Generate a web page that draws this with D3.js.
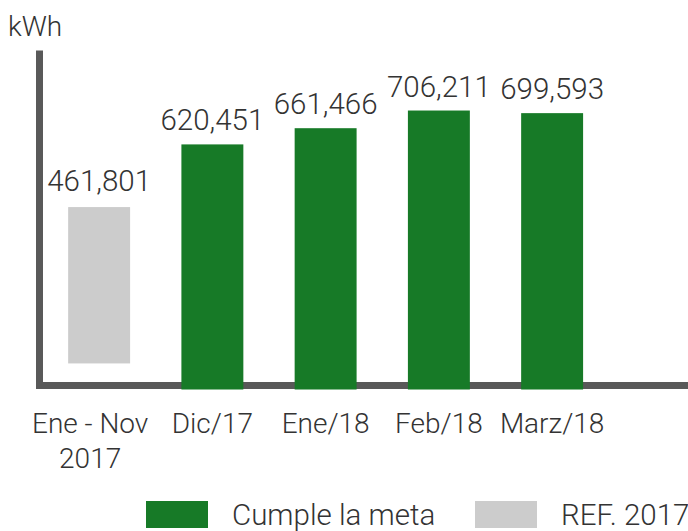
<!DOCTYPE html>
<html>
<head>
<meta charset="utf-8">
<script src="https://cdn.jsdelivr.net/npm/d3@7"></script>
<style>
  html, body { margin: 0; padding: 0; background: #fff; }
  svg { display: block; }
  text { font-family: Roboto, "Liberation Sans", sans-serif; font-weight: 300; fill: #333; }
</style>
</head>
<body>
<svg id="chart" width="688" height="531"></svg>
<script>
// ---- data ----
const categories = ["Ene - Nov\n2017", "Dic/17", "Ene/18", "Feb/18", "Marz/18"];
const values = [461801, 620451, 661466, 706211, 699593];
const groups = ["ref", "meta", "meta", "meta", "meta"];
const refBase = 66000; // lower end of the reference (gray) bar
const legendLabels = ["Cumple la meta", "REF. 2017"];
const unitLabel = "kWh";

const colors = { meta: "#177a27", ref: "#cccccc" };

const svg = d3.select("#chart");
const x = d3.scaleBand().domain(categories).range([42.5, 608.75]).paddingInner(0.453).paddingOuter(0.2265);
const y = d3.scaleLinear().domain([0, 986000]).range([389.5, 0]);
const fmt = d3.format(",");

// axes lines
svg.append("line").attr("x1", 39.5).attr("x2", 39.5).attr("y1", 50.5).attr("y2", 389)
  .attr("stroke", "#595959").attr("stroke-width", 7);
svg.append("line").attr("x1", 36).attr("x2", 688).attr("y1", 385.5).attr("y2", 385.5)
  .attr("stroke", "#595959").attr("stroke-width", 7);

// unit label
svg.append("text").attr("x", 8).attr("y", 36).attr("font-size", 28).text(unitLabel);

// bars
const data = categories.map((c, i) => ({ c, v: values[i], g: groups[i] }));
svg.selectAll("rect.bar").data(data).enter().append("rect")
  .attr("class", "bar")
  .attr("x", d => x(d.c))
  .attr("width", x.bandwidth())
  .attr("y", d => y(d.v))
  .attr("height", d => (d.g === "ref" ? y(refBase) : y(0)) - y(d.v))
  .attr("fill", d => colors[d.g]);

// value labels
svg.selectAll("text.val").data(data).enter().append("text")
  .attr("class", "val")
  .attr("x", d => x(d.c) + x.bandwidth() / 2)
  .attr("y", d => y(d.v) - (d.g === "ref" ? 16 : 14))
  .attr("text-anchor", "middle")
  .attr("font-size", 29.5)
  .text(d => fmt(d.v));

// category labels
const cat = svg.selectAll("text.cat").data(data).enter().append("text")
  .attr("class", "cat")
  .attr("text-anchor", "middle")
  .attr("font-size", 28)
  .attr("x", d => x(d.c) + x.bandwidth() / 2 - (d.g === "ref" ? 9 : 0))
  .attr("y", 433);
cat.each(function(d) {
  const lines = d.c.split("\n");
  const t = d3.select(this);
  lines.forEach((l, i) => {
    t.append("tspan").attr("x", t.attr("x")).attr("dy", i === 0 ? 0 : 35).text(l);
  });
});

// legend
const legendItems = [
  { label: legendLabels[0], color: colors.meta, x: 146 },
  { label: legendLabels[1], color: colors.ref, x: 475 }
];
const lg = svg.selectAll("g.leg").data(legendItems).enter().append("g")
  .attr("class", "leg").attr("transform", d => `translate(${d.x},501)`);
lg.append("rect").attr("width", 62).attr("height", 27).attr("fill", d => d.color);
lg.append("text").attr("x", 86).attr("y", 24).attr("font-size", 29.5).text(d => d.label);
</script>
</body>
</html>
